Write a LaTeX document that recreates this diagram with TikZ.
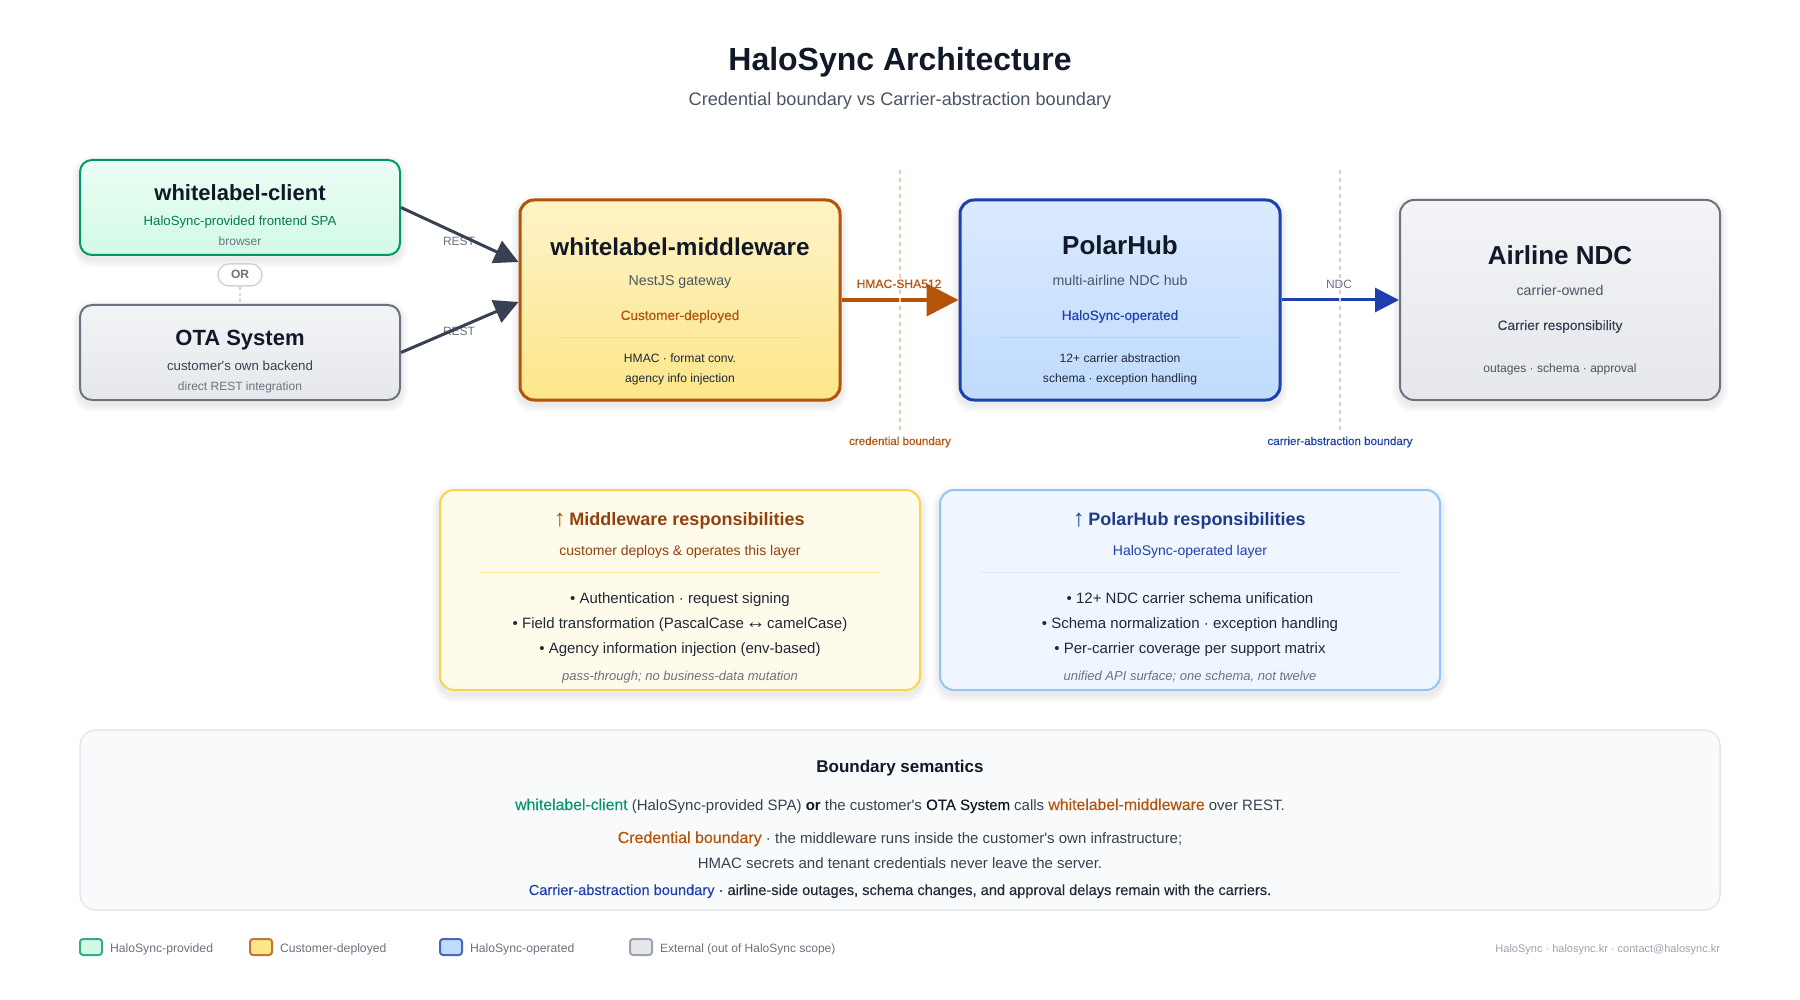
\documentclass[tikz,border=0pt]{standalone}
\usepackage{fontspec}
\setmainfont[Ligatures=TeXOff]{Liberation Sans}
\newfontfamily\semi[FakeBold=0.15]{Liberation Sans}
\usetikzlibrary{arrows.meta}
\newcommand{\fsize}[1]{\fontsize{#1}{#1}\selectfont}
\definecolor{ink}{HTML}{111827}
\definecolor{inkb}{HTML}{1F2937}
\definecolor{inkc}{HTML}{374151}
\definecolor{inkd}{HTML}{4B5563}
\definecolor{inke}{HTML}{6B7280}
\definecolor{inkf}{HTML}{9CA3AF}
\definecolor{linegray}{HTML}{E5E7EB}
\definecolor{pillgray}{HTML}{D1D5DB}
\definecolor{green}{HTML}{059669}
\definecolor{greent}{HTML}{047857}
\definecolor{greena}{HTML}{ECFDF5}
\definecolor{greenb}{HTML}{D1FAE5}
\definecolor{amber}{HTML}{B45309}
\definecolor{ambert}{HTML}{92400E}
\definecolor{ambera}{HTML}{FEF3C7}
\definecolor{amberb}{HTML}{FDE68A}
\definecolor{amberc}{HTML}{FCD34D}
\definecolor{amberd}{HTML}{FFFBEB}
\definecolor{blue}{HTML}{1E40AF}
\definecolor{bluet}{HTML}{1E3A8A}
\definecolor{bluea}{HTML}{DBEAFE}
\definecolor{blueb}{HTML}{BFDBFE}
\definecolor{bluec}{HTML}{93C5FD}
\definecolor{blued}{HTML}{EFF6FF}
\definecolor{graya}{HTML}{F3F4F6}
\definecolor{panel}{HTML}{F9FAFB}
\begin{document}
\begin{tikzpicture}[x=1pt, y=-1pt,
    tx/.style 2 args={anchor=base, inner sep=0pt, outer sep=0pt, text=#2, font=\fsize{#1}},
    sx/.style 2 args={anchor=base, inner sep=0pt, outer sep=0pt, text=#2, font=\fsize{#1}\semi},
    bx/.style 2 args={anchor=base, inner sep=0pt, outer sep=0pt, text=#2, font=\fsize{#1}\bfseries},
    softglow/.style={preaction={draw=black, draw opacity=.018, line width=#1, transform canvas={yshift=-4pt}}},
    box/.style={rectangle, rounded corners=14pt, inner sep=0pt, minimum width=320pt,
      softglow=16pt, softglow=12pt, softglow=8pt, softglow=4pt},
    swatch/.style={rectangle, rounded corners=3pt, inner sep=0pt, minimum width=22pt, minimum height=16pt, line width=2pt},
    divider/.style={line width=1pt},
    boundary/.style={line width=1.5pt, dash pattern=on 4pt off 4pt}]
    \useasboundingbox (0,0) rectangle (1800,1000);
    \fill [white] (0,0) rectangle (1800,1000);

    \node [bx={32}{ink}] (title) at (900,71) {HaloSync Architecture};
    \node [tx={18.15}{inkd}] (subtitle) at (900,106) {Credential boundary vs Carrier-abstraction boundary};

    \begin{scope}
      \node [box, rounded corners=12pt, minimum height=95pt, draw=green, line width=2pt, top color=greena, bottom color=greenb] (client) at (240,207.5) {};
      \node [box, rounded corners=12pt, minimum height=95pt, draw=inke, line width=2pt, top color=graya, bottom color=linegray] (ota) at (240,352.5) {};
      \node [box, minimum height=200pt, draw=amber, line width=3pt, top color=ambera, bottom color=amberb] (mw) at (680,300) {};
      \node [box, minimum height=200pt, draw=blue, line width=3pt, top color=bluea, bottom color=blueb] (hub) at (1120,300) {};
      \node [box, minimum height=200pt, draw=inke, line width=2pt, top color=graya, bottom color=linegray] (airline) at (1560,300) {};
    \end{scope}

    \draw [pillgray, line width=1.5pt, dash pattern=on 3pt off 3pt] ([yshift=-7pt]client.south) to (ota.north);
    \node [rectangle, rounded corners=11pt, draw=pillgray, line width=1.5pt, fill=white, minimum width=44pt, minimum height=22pt, inner sep=0pt] (orpill) at (240,275) {};

    \node [bx={22}{ink}] (clientname) at (240,201) {whitelabel-client};
    \node [tx={13.2}{greent}] (clientsub) at (240,226) {HaloSync-provided frontend SPA};
    \node [tx={12}{inke}] (clientnote) at (240,246) {browser};
    \node [bx={12}{inke}] (ortext) at (240,279) {OR};
    \node [bx={22}{ink}] (otaname) at (240,346) {OTA System};
    \node [tx={13.3}{inkc}] (otasub) at (240,370.5) {customer's own backend};
    \node [tx={12}{inke}] (otanote) at (240,390) {direct REST integration};

    \node [bx={24.3}{ink}] (mwname) at (680,255.5) {whitelabel-middleware};
    \node [tx={14.2}{inkd}] (mwsub) at (680,286) {NestJS gateway};
    \node [sx={13.6}{amber}] (mwtag) at (680,320) {Customer-deployed};
    \node [tx={12.1}{inkb}] (mwa) at (680,362.5) {HMAC · format conv.};
    \node [tx={12.1}{inkb}] (mwb) at (680,382) {agency info injection};
    \draw [amberc, divider, draw opacity=.45] (560,338) to (800,338);

    \node [bx={26}{ink}] (hubname) at (1120,255) {PolarHub};
    \node [tx={14.2}{inkd}] (hubsub) at (1120,286) {multi-airline NDC hub};
    \node [sx={13.6}{blue}] (hubtag) at (1120,320) {HaloSync-operated};
    \node [tx={12.1}{inkb}] (huba) at (1120,362.5) {12+ carrier abstraction};
    \node [tx={12.1}{inkb}] (hubb) at (1120,382) {schema · exception handling};
    \draw [bluec, divider, draw opacity=.45] (1000,338) to (1240,338);

    \node [bx={26}{ink}] (airlinename) at (1560,265) {Airline NDC};
    \node [tx={14.2}{inkd}] (airlinesub) at (1560,296) {carrier-owned};
    \node [sx={13.7}{inkc}] (airlinetag) at (1560,330) {Carrier responsibility};
    \node [tx={12.1}{inkd}] (airlinea) at (1560,373) {outages · schema · approval};
    \draw [linegray, divider] (1440,348) to (1680,348);

    \node [tx={12}{inke}] (resta) at (459,246) {REST};
    \node [tx={12}{inke}] (restb) at (459,336) {REST};

    \begin{scope}[line width=3pt]
      \draw [inkc, -{Triangle[length=24pt, width=24pt]}] (client.east) to ([yshift=38pt]mw.west);
      \draw [inkc, -{Triangle[length=24pt, width=24pt]}] (ota.east) to ([yshift=-2pt]mw.west);
      \draw [amber, line width=4pt, -{Triangle[length=32pt, width=32pt]}] (mw.east) to (hub.west);
      \draw [blue, -{Triangle[length=24pt, width=24pt]}] (hub.east) to (airline.west);
    \end{scope}

    \coordinate (credtop) at (900,170);
    \coordinate (credbot) at (900,430);
    \coordinate (cartop) at (1340,170);
    \coordinate (carbot) at (1340,430);
    \draw [amber!30!white, boundary] (credtop) to (credbot);
    \draw [blue!25!white, boundary] (cartop) to (carbot);

    \node [sx={12.1}{amber}] (hmac) at (899,288) {HMAC-SHA512};
    \node [tx={12}{inke}] (ndc) at (1339,289) {NDC};
    \node [sx={11.6}{amber}] (credlabel) at (900,445) {credential boundary};
    \node [sx={11.6}{blue}] (carlabel) at (1340,445) {carrier-abstraction boundary};

    \node [box, minimum width=480pt, minimum height=200pt, draw=amberc, line width=2pt, fill=amberd] (mwresp) at (680,590) {};
    \node [bx={18}{ambert}] (mwresptitle) at (680,525) {{\mdseries\color{amber}\makebox[9pt]{\raisebox{-1.5pt}{\fsize{24}↑}}} Middleware responsibilities};
    \node [tx={14}{ambert}] (mwrespsub) at (680,555) {customer deploys \& operates this layer};
    \draw [amberb, divider] (480,572) to (880,572);
    \node [tx={15}{inkb}] (mwrespa) at (680,603) {• Authentication · request signing};
    \node [tx={15}{inkb}] (mwrespb) at (680,628) {• Field transformation (PascalCase \makebox[15pt]{\fsize{20}↔} camelCase)};
    \node [tx={15}{inkb}] (mwrespc) at (680,653) {• Agency information injection (env-based)};
    \node [tx={13}{inke}] (mwrespd) at (680,680.5) {\itshape pass-through; no business-data mutation};

    \node [box, minimum width=500pt, minimum height=200pt, draw=bluec, line width=2pt, fill=blued] (hubresp) at (1190,590) {};
    \node [bx={18}{bluet}] (hubresptitle) at (1190,525) {{\mdseries\color{blue}\makebox[9pt]{\raisebox{-1.5pt}{\fsize{24}↑}}} PolarHub responsibilities};
    \node [tx={14}{blue}] (hubrespsub) at (1190,555) {HaloSync-operated layer};
    \draw [bluea, divider] (980,572) to (1400,572);
    \node [tx={15}{inkb}] (hubrespa) at (1190,603) {• 12+ NDC carrier schema unification};
    \node [tx={15}{inkb}] (hubrespb) at (1190,628) {• Schema normalization · exception handling};
    \node [tx={15}{inkb}] (hubrespc) at (1190,653) {• Per-carrier coverage per support matrix};
    \node [tx={13}{inke}] (hubrespd) at (1190,680.5) {\itshape unified API surface; one schema, not twelve};

    \node [rectangle, rounded corners=16pt, minimum width=1640pt, minimum height=180pt, inner sep=0pt, draw=linegray, line width=1.5pt, fill=panel] (semantics) at (900,820) {};
    \node [bx={17}{ink}] (semtitle) at (900,772) {Boundary semantics};
    \node [tx={15}{inkc}] (sema) at (900,810) {{\fsize{15.8}\semi\color{green}whitelabel-client} (HaloSync-provided SPA) {\bfseries\color{ink}or} the customer's {\semi\color{ink}OTA System} calls {\fsize{15.8}\semi\color{amber}whitelabel-middleware} over REST.};
    \node [tx={15}{inkc}] (semb) at (900,843) {{\fsize{16}\semi\color{amber}Credential boundary} · the middleware runs inside the customer's own infrastructure;};
    \node [tx={15}{inkc}] (semc) at (900,868) {HMAC secrets and tenant credentials never leave the server.};
    \node [sx={14.6}{inkb}] (semd) at (900,895) {{\color{blue}Carrier-abstraction boundary} · airline-side outages, schema changes, and approval delays remain with the carriers.};

    \node [swatch, draw=green!80!white, fill=greenb] (keya) at (91,947) {};
    \node [swatch, draw=amber!80!white, fill=amberb] (keyb) at (261,947) {};
    \node [swatch, draw=blue!80!white, fill=blueb] (keyc) at (451,947) {};
    \node [swatch, draw=inkf, fill=linegray] (keyd) at (641,947) {};
    \node [tx={12.2}{inke}, anchor=base west] (keyatext) at (110,952) {HaloSync-provided};
    \node [tx={12.2}{inke}, anchor=base west] (keybtext) at (280,952) {Customer-deployed};
    \node [tx={12.2}{inke}, anchor=base west] (keyctext) at (470,952) {HaloSync-operated};
    \node [tx={12}{inke}, anchor=base west] (keydtext) at (660,952) {External (out of HaloSync scope)};
    \node [tx={11}{inkf}, anchor=base east] (footer) at (1720,952) {HaloSync · halosync.kr · contact@halosync.kr};
\end{tikzpicture}
\end{document}
